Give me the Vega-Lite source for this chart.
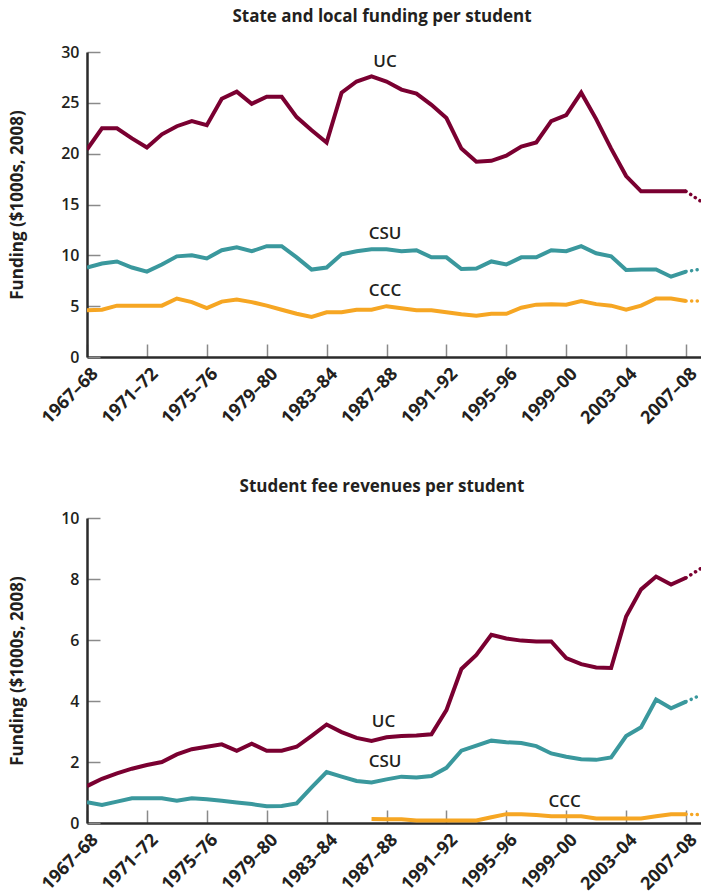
{
  "$schema": "https://vega.github.io/schema/vega-lite/v6.json",
  "padding": {"left": 8, "top": 8, "right": 0, "bottom": 0},
  "spacing": 50,
  "config": {
    "font": "Open Sans",
    "view": {"stroke": null},
    "axis": {"grid": false, "domainColor": "#2b2b2b", "domainWidth": 2.5, "tickColor": "#8a8a8a", "tickWidth": 1.5, "tickSize": -13, "labelFont": "Open Sans", "labelFontSize": 16, "labelFontWeight": 600, "labelColor": "#231f20", "titleFont": "Open Sans", "titleFontSize": 17, "titleFontWeight": "bold", "titleColor": "#231f20"},
    "axisX": {"labelFontSize": 18, "labelFontWeight": "bold", "labelAngle": -45, "labelAlign": "right", "labelBaseline": "middle", "labelPadding": 27, "labelOffset": 8, "labelFlush": false, "labelOverlap": false},
    "axisY": {"labelPadding": 21, "titlePadding": 34},
    "title": {"font": "Open Sans", "fontSize": 17, "fontWeight": "bold", "color": "#231f20", "anchor": "middle", "offset": 18}
  },
  "datasets": {
    "state": [
      {"year":1967,"school":"UC","value":20.4},{"year":1968,"school":"UC","value":22.5},{"year":1969,"school":"UC","value":22.5},{"year":1970,"school":"UC","value":21.5},{"year":1971,"school":"UC","value":20.6},{"year":1972,"school":"UC","value":21.9},{"year":1973,"school":"UC","value":22.7},{"year":1974,"school":"UC","value":23.2},{"year":1975,"school":"UC","value":22.8},{"year":1976,"school":"UC","value":25.4},{"year":1977,"school":"UC","value":26.1},{"year":1978,"school":"UC","value":24.9},{"year":1979,"school":"UC","value":25.6},{"year":1980,"school":"UC","value":25.6},{"year":1981,"school":"UC","value":23.6},{"year":1982,"school":"UC","value":22.3},{"year":1983,"school":"UC","value":21.1},{"year":1984,"school":"UC","value":26.0},{"year":1985,"school":"UC","value":27.1},{"year":1986,"school":"UC","value":27.6},{"year":1987,"school":"UC","value":27.1},{"year":1988,"school":"UC","value":26.3},{"year":1989,"school":"UC","value":25.9},{"year":1990,"school":"UC","value":24.8},{"year":1991,"school":"UC","value":23.5},{"year":1992,"school":"UC","value":20.5},{"year":1993,"school":"UC","value":19.2},{"year":1994,"school":"UC","value":19.3},{"year":1995,"school":"UC","value":19.8},{"year":1996,"school":"UC","value":20.7},{"year":1997,"school":"UC","value":21.1},{"year":1998,"school":"UC","value":23.2},{"year":1999,"school":"UC","value":23.8},{"year":2000,"school":"UC","value":26.0},{"year":2001,"school":"UC","value":23.4},{"year":2002,"school":"UC","value":20.5},{"year":2003,"school":"UC","value":17.8},{"year":2004,"school":"UC","value":16.3},{"year":2005,"school":"UC","value":16.3},{"year":2006,"school":"UC","value":16.3},{"year":2007,"school":"UC","value":16.3},{"year":2008,"school":"UC","value":15.3},
      {"year":1967,"school":"CSU","value":8.8},{"year":1968,"school":"CSU","value":9.2},{"year":1969,"school":"CSU","value":9.4},{"year":1970,"school":"CSU","value":8.8},{"year":1971,"school":"CSU","value":8.4},{"year":1972,"school":"CSU","value":9.1},{"year":1973,"school":"CSU","value":9.9},{"year":1974,"school":"CSU","value":10.0},{"year":1975,"school":"CSU","value":9.7},{"year":1976,"school":"CSU","value":10.5},{"year":1977,"school":"CSU","value":10.8},{"year":1978,"school":"CSU","value":10.4},{"year":1979,"school":"CSU","value":10.9},{"year":1980,"school":"CSU","value":10.9},{"year":1981,"school":"CSU","value":9.8},{"year":1982,"school":"CSU","value":8.6},{"year":1983,"school":"CSU","value":8.8},{"year":1984,"school":"CSU","value":10.1},{"year":1985,"school":"CSU","value":10.4},{"year":1986,"school":"CSU","value":10.6},{"year":1987,"school":"CSU","value":10.6},{"year":1988,"school":"CSU","value":10.4},{"year":1989,"school":"CSU","value":10.5},{"year":1990,"school":"CSU","value":9.8},{"year":1991,"school":"CSU","value":9.8},{"year":1992,"school":"CSU","value":8.65},{"year":1993,"school":"CSU","value":8.7},{"year":1994,"school":"CSU","value":9.4},{"year":1995,"school":"CSU","value":9.1},{"year":1996,"school":"CSU","value":9.8},{"year":1997,"school":"CSU","value":9.8},{"year":1998,"school":"CSU","value":10.5},{"year":1999,"school":"CSU","value":10.4},{"year":2000,"school":"CSU","value":10.9},{"year":2001,"school":"CSU","value":10.2},{"year":2002,"school":"CSU","value":9.9},{"year":2003,"school":"CSU","value":8.55},{"year":2004,"school":"CSU","value":8.6},{"year":2005,"school":"CSU","value":8.6},{"year":2006,"school":"CSU","value":7.9},{"year":2007,"school":"CSU","value":8.4},{"year":2008,"school":"CSU","value":8.65},
      {"year":1967,"school":"CCC","value":4.6},{"year":1968,"school":"CCC","value":4.65},{"year":1969,"school":"CCC","value":5.05},{"year":1970,"school":"CCC","value":5.05},{"year":1971,"school":"CCC","value":5.05},{"year":1972,"school":"CCC","value":5.05},{"year":1973,"school":"CCC","value":5.75},{"year":1974,"school":"CCC","value":5.4},{"year":1975,"school":"CCC","value":4.8},{"year":1976,"school":"CCC","value":5.45},{"year":1977,"school":"CCC","value":5.65},{"year":1978,"school":"CCC","value":5.4},{"year":1979,"school":"CCC","value":5.05},{"year":1980,"school":"CCC","value":4.65},{"year":1981,"school":"CCC","value":4.25},{"year":1982,"school":"CCC","value":3.95},{"year":1983,"school":"CCC","value":4.4},{"year":1984,"school":"CCC","value":4.4},{"year":1985,"school":"CCC","value":4.65},{"year":1986,"school":"CCC","value":4.65},{"year":1987,"school":"CCC","value":5.0},{"year":1988,"school":"CCC","value":4.8},{"year":1989,"school":"CCC","value":4.6},{"year":1990,"school":"CCC","value":4.6},{"year":1991,"school":"CCC","value":4.4},{"year":1992,"school":"CCC","value":4.2},{"year":1993,"school":"CCC","value":4.05},{"year":1994,"school":"CCC","value":4.25},{"year":1995,"school":"CCC","value":4.25},{"year":1996,"school":"CCC","value":4.85},{"year":1997,"school":"CCC","value":5.15},{"year":1998,"school":"CCC","value":5.2},{"year":1999,"school":"CCC","value":5.15},{"year":2000,"school":"CCC","value":5.5},{"year":2001,"school":"CCC","value":5.2},{"year":2002,"school":"CCC","value":5.05},{"year":2003,"school":"CCC","value":4.65},{"year":2004,"school":"CCC","value":5.05},{"year":2005,"school":"CCC","value":5.75},{"year":2006,"school":"CCC","value":5.75},{"year":2007,"school":"CCC","value":5.5},{"year":2008,"school":"CCC","value":5.5}
    ],
    "fees": [
      {"year":1967,"school":"UC","value":1.21},{"year":1968,"school":"UC","value":1.45},{"year":1969,"school":"UC","value":1.63},{"year":1970,"school":"UC","value":1.78},{"year":1971,"school":"UC","value":1.9},{"year":1972,"school":"UC","value":2.0},{"year":1973,"school":"UC","value":2.25},{"year":1974,"school":"UC","value":2.42},{"year":1975,"school":"UC","value":2.5},{"year":1976,"school":"UC","value":2.58},{"year":1977,"school":"UC","value":2.37},{"year":1978,"school":"UC","value":2.6},{"year":1979,"school":"UC","value":2.37},{"year":1980,"school":"UC","value":2.37},{"year":1981,"school":"UC","value":2.5},{"year":1982,"school":"UC","value":2.86},{"year":1983,"school":"UC","value":3.23},{"year":1984,"school":"UC","value":2.98},{"year":1985,"school":"UC","value":2.79},{"year":1986,"school":"UC","value":2.69},{"year":1987,"school":"UC","value":2.81},{"year":1988,"school":"UC","value":2.85},{"year":1989,"school":"UC","value":2.87},{"year":1990,"school":"UC","value":2.91},{"year":1991,"school":"UC","value":3.7},{"year":1992,"school":"UC","value":5.05},{"year":1993,"school":"UC","value":5.51},{"year":1994,"school":"UC","value":6.17},{"year":1995,"school":"UC","value":6.05},{"year":1996,"school":"UC","value":5.98},{"year":1997,"school":"UC","value":5.95},{"year":1998,"school":"UC","value":5.95},{"year":1999,"school":"UC","value":5.41},{"year":2000,"school":"UC","value":5.21},{"year":2001,"school":"UC","value":5.1},{"year":2002,"school":"UC","value":5.08},{"year":2003,"school":"UC","value":6.77},{"year":2004,"school":"UC","value":7.66},{"year":2005,"school":"UC","value":8.08},{"year":2006,"school":"UC","value":7.82},{"year":2007,"school":"UC","value":8.04},{"year":2008,"school":"UC","value":8.35},
      {"year":1967,"school":"CSU","value":0.68},{"year":1968,"school":"CSU","value":0.59},{"year":1969,"school":"CSU","value":0.7},{"year":1970,"school":"CSU","value":0.81},{"year":1971,"school":"CSU","value":0.81},{"year":1972,"school":"CSU","value":0.81},{"year":1973,"school":"CSU","value":0.73},{"year":1974,"school":"CSU","value":0.81},{"year":1975,"school":"CSU","value":0.78},{"year":1976,"school":"CSU","value":0.73},{"year":1977,"school":"CSU","value":0.67},{"year":1978,"school":"CSU","value":0.62},{"year":1979,"school":"CSU","value":0.55},{"year":1980,"school":"CSU","value":0.56},{"year":1981,"school":"CSU","value":0.64},{"year":1982,"school":"CSU","value":1.17},{"year":1983,"school":"CSU","value":1.67},{"year":1984,"school":"CSU","value":1.52},{"year":1985,"school":"CSU","value":1.38},{"year":1986,"school":"CSU","value":1.33},{"year":1987,"school":"CSU","value":1.43},{"year":1988,"school":"CSU","value":1.52},{"year":1989,"school":"CSU","value":1.49},{"year":1990,"school":"CSU","value":1.54},{"year":1991,"school":"CSU","value":1.81},{"year":1992,"school":"CSU","value":2.37},{"year":1993,"school":"CSU","value":2.54},{"year":1994,"school":"CSU","value":2.7},{"year":1995,"school":"CSU","value":2.65},{"year":1996,"school":"CSU","value":2.62},{"year":1997,"school":"CSU","value":2.52},{"year":1998,"school":"CSU","value":2.28},{"year":1999,"school":"CSU","value":2.17},{"year":2000,"school":"CSU","value":2.09},{"year":2001,"school":"CSU","value":2.07},{"year":2002,"school":"CSU","value":2.15},{"year":2003,"school":"CSU","value":2.85},{"year":2004,"school":"CSU","value":3.14},{"year":2005,"school":"CSU","value":4.05},{"year":2006,"school":"CSU","value":3.76},{"year":2007,"school":"CSU","value":3.98},{"year":2008,"school":"CSU","value":4.2},
      {"year":1986,"school":"CCC","value":0.13},{"year":1987,"school":"CCC","value":0.12},{"year":1988,"school":"CCC","value":0.12},{"year":1989,"school":"CCC","value":0.08},{"year":1990,"school":"CCC","value":0.08},{"year":1991,"school":"CCC","value":0.08},{"year":1992,"school":"CCC","value":0.08},{"year":1993,"school":"CCC","value":0.08},{"year":1994,"school":"CCC","value":0.19},{"year":1995,"school":"CCC","value":0.29},{"year":1996,"school":"CCC","value":0.29},{"year":1997,"school":"CCC","value":0.26},{"year":1998,"school":"CCC","value":0.22},{"year":1999,"school":"CCC","value":0.22},{"year":2000,"school":"CCC","value":0.22},{"year":2001,"school":"CCC","value":0.15},{"year":2002,"school":"CCC","value":0.15},{"year":2003,"school":"CCC","value":0.15},{"year":2004,"school":"CCC","value":0.15},{"year":2005,"school":"CCC","value":0.22},{"year":2006,"school":"CCC","value":0.29},{"year":2007,"school":"CCC","value":0.29},{"year":2008,"school":"CCC","value":0.27}
    ],
    "stateLabels": [
      {"year":1986.9,"value":29.0,"label":"UC"},{"year":1986.9,"value":12.1,"label":"CSU"},{"year":1986.9,"value":6.5,"label":"CCC"}
    ],
    "feeLabels": [
      {"year":1986.8,"value":3.31,"label":"UC"},{"year":1986.9,"value":2.0,"label":"CSU"},{"year":1998.9,"value":0.69,"label":"CCC"}
    ]
  },
  "vconcat": [
    {
      "title": {"text": "State and local funding per student", "dx": -12},
      "width": 614,
      "height": 305,
      "layer": [
        {
          "data": {"name": "state"},
          "transform": [{"filter": "datum.year <= 2007"}],
          "mark": {"type": "line", "strokeWidth": 4, "strokeJoin": "miter", "clip": true},
          "encoding": {
            "x": {"field": "year", "type": "quantitative", "scale": {"domain": [1967, 2008], "nice": false, "zero": false},
                  "axis": {"title": null, "values": [1967,1971,1975,1979,1983,1987,1991,1995,1999,2003,2007], "labelExpr": "datum.value + '–' + substring(toString(datum.value + 1), 2, 4)"}},
            "y": {"field": "value", "type": "quantitative", "scale": {"domain": [0, 30], "nice": false},
                  "axis": {"title": "Funding ($1000s, 2008)", "values": [0,5,10,15,20,25,30]}},
            "color": {"field": "school", "type": "nominal", "scale": {"domain": ["UC","CSU","CCC"], "range": ["#7a0031","#3a989d","#f6a623"]}, "legend": null}
          }
        },
        {
          "data": {"name": "state"},
          "transform": [{"filter": "datum.year >= 2007"}],
          "mark": {"type": "line", "strokeWidth": 3.5, "strokeCap": "round", "strokeDash": [0.1, 5.5], "clip": true},
          "encoding": {
            "x": {"field": "year", "type": "quantitative"},
            "y": {"field": "value", "type": "quantitative"},
            "color": {"field": "school", "type": "nominal"}
          }
        },
        {
          "data": {"name": "stateLabels"},
          "mark": {"type": "text", "fontSize": 17, "fontWeight": 600, "color": "#231f20", "baseline": "middle", "align": "center"},
          "encoding": {
            "x": {"field": "year", "type": "quantitative"},
            "y": {"field": "value", "type": "quantitative"},
            "text": {"field": "label"}
          }
        }
      ]
    },
    {
      "title": {"text": "Student fee revenues per student", "dx": -12, "offset": 14},
      "width": 614,
      "height": 305,
      "layer": [
        {
          "data": {"name": "fees"},
          "transform": [{"filter": "datum.year <= 2007"}],
          "mark": {"type": "line", "strokeWidth": 4, "strokeJoin": "miter", "clip": true},
          "encoding": {
            "x": {"field": "year", "type": "quantitative", "scale": {"domain": [1967, 2008], "nice": false, "zero": false},
                  "axis": {"title": null, "values": [1967,1971,1975,1979,1983,1987,1991,1995,1999,2003,2007], "labelExpr": "datum.value + '–' + substring(toString(datum.value + 1), 2, 4)"}},
            "y": {"field": "value", "type": "quantitative", "scale": {"domain": [0, 10], "nice": false},
                  "axis": {"title": "Funding ($1000s, 2008)", "values": [0,2,4,6,8,10]}},
            "color": {"field": "school", "type": "nominal", "scale": {"domain": ["UC","CSU","CCC"], "range": ["#7a0031","#3a989d","#f6a623"]}, "legend": null}
          }
        },
        {
          "data": {"name": "fees"},
          "transform": [{"filter": "datum.year >= 2007"}],
          "mark": {"type": "line", "strokeWidth": 3.5, "strokeCap": "round", "strokeDash": [0.1, 5.5], "clip": true},
          "encoding": {
            "x": {"field": "year", "type": "quantitative"},
            "y": {"field": "value", "type": "quantitative"},
            "color": {"field": "school", "type": "nominal"}
          }
        },
        {
          "data": {"name": "feeLabels"},
          "mark": {"type": "text", "fontSize": 17, "fontWeight": 600, "color": "#231f20", "baseline": "middle", "align": "center"},
          "encoding": {
            "x": {"field": "year", "type": "quantitative"},
            "y": {"field": "value", "type": "quantitative"},
            "text": {"field": "label"}
          }
        }
      ]
    }
  ]
}
